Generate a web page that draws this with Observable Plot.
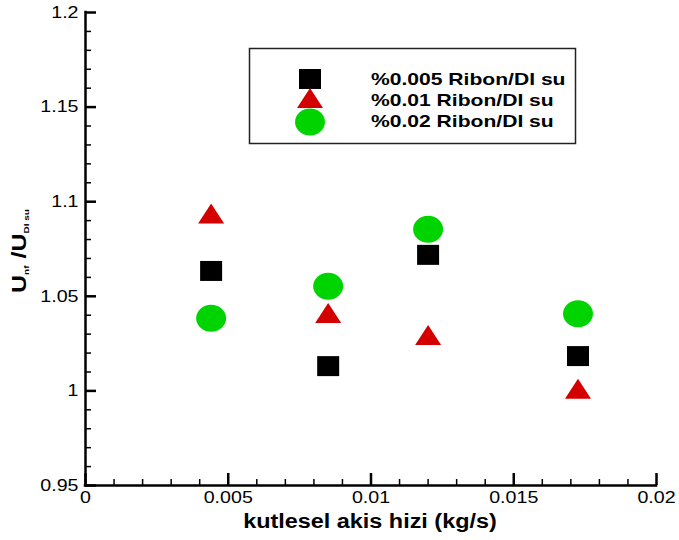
<!DOCTYPE html>
<html>
<head>
<meta charset="utf-8">
<script src="https://cdn.jsdelivr.net/npm/d3@7"></script>
<script src="https://cdn.jsdelivr.net/npm/@observablehq/plot@0.6"></script>
<style>
  html, body { margin: 0; padding: 0; background: #fff; }
  #chart svg { display: block; }
</style>
</head>
<body>
<div id="chart"></div>
<script>
// ---- data ----
const flowRates = [0.0044, 0.0085, 0.012, 0.01725];           // kutlesel akis hizi (kg/s)
const seriesNames = ["%0.005 Ribon/DI su", "%0.01 Ribon/DI su", "%0.02 Ribon/DI su"];
const ratio005 = [1.0634, 1.0131, 1.0719, 1.0184];
const ratio01  = [1.0938, 1.0412, 1.0295, 1.0012];
const ratio02  = [1.0384, 1.0553, 1.0854, 1.0408];
const seriesColors = ["#000000", "#d40000", "#00d400"];
const xTicks = [0, 0.005, 0.01, 0.015, 0.02];
const xTickLabels = ["0", "0.005", "0.01", "0.015", "0.02"];
const yTicks = [0.95, 1, 1.05, 1.1, 1.15, 1.2];
const yTickLabels = ["0.95", "1", "1.05", "1.1", "1.15", "1.2"];
const xMinorTicks = [0.001,0.002,0.003,0.004,0.006,0.007,0.008,0.009,0.011,0.012,0.013,0.014,0.016,0.017,0.018,0.019];
const yMinorTicks = [0.96,0.97,0.98,0.99,1.01,1.02,1.03,1.04,1.06,1.07,1.08,1.09,1.11,1.12,1.13,1.14,1.16,1.17,1.18,1.19];
const xTitle = "kutlesel akis hizi (kg/s)";

// ---- marker shapes ----
const squareSym = {draw(c) { const w = 11, h = 10; c.moveTo(-w, -h); c.lineTo(w, -h); c.lineTo(w, h); c.lineTo(-w, h); c.closePath(); }};
const triangleSym = {draw(c) { c.moveTo(0, -10); c.lineTo(13, 10); c.lineTo(-13, 10); c.closePath(); }};
const ellipseSym = {draw(c) {
  const rx = 15, ry = 13.5, k = 0.5523;
  c.moveTo(rx, 0);
  c.bezierCurveTo(rx, ry * k, rx * k, ry, 0, ry);
  c.bezierCurveTo(-rx * k, ry, -rx, ry * k, -rx, 0);
  c.bezierCurveTo(-rx, -ry * k, -rx * k, -ry, 0, -ry);
  c.bezierCurveTo(rx * k, -ry, rx, -ry * k, rx, 0);
  c.closePath();
}};
const symbols = [squareSym, triangleSym, ellipseSym];

const seriesValues = [ratio005, ratio01, ratio02];
const seriesData = seriesValues.map(vals => flowRates.map((x, i) => ({x, y: vals[i]})));

const font = "'Liberation Sans', Arial, Helvetica, sans-serif";

const chart = Plot.plot({
  width: 679,
  height: 540,
  marginLeft: 85,
  marginRight: 23,
  marginTop: 12,
  marginBottom: 55,
  x: {domain: [0, 0.02]},
  y: {domain: [0.95, 1.2]},
  style: {fontFamily: font, fontSize: "16px", color: "#000", background: "#fff", overflow: "visible"},
  marks: [
    // minor ticks (inward)
    Plot.axisX(xMinorTicks, {tickSize: -6, strokeWidth: 1.5, fill: "none", label: null}),
    Plot.axisY(yMinorTicks, {tickSize: -6, strokeWidth: 1.5, fill: "none", label: null}),
    // major ticks (inward)
    Plot.axisX(xTicks, {tickSize: -12, strokeWidth: 2.5, fill: "none", label: null}),
    Plot.axisY(yTicks, {tickSize: -11, strokeWidth: 2.5, fill: "none", label: null}),
    // tick labels
    Plot.axisX(xTicks, {tickSize: 0, tickPadding: 6, fontSize: 16.5, label: null,
      tickFormat: d => xTickLabels[xTicks.indexOf(d)]}),
    Plot.axisY(yTicks, {tickSize: 0, tickPadding: 7, fontSize: 16.5, label: null,
      tickFormat: d => yTickLabels[yTicks.indexOf(d)]}),
    // axis lines
    Plot.ruleX([0], {y1: 0.95, y2: 1.2, strokeWidth: 2.5, strokeLinecap: "square"}),
    Plot.ruleY([0.95], {x1: 0, x2: 0.02, strokeWidth: 2.5, strokeLinecap: "square"}),
    // data
    ...seriesData.map((data, s) => Plot.dot(data, {
      x: "x", y: "y", symbol: symbols[s], r: 10, fill: seriesColors[s], stroke: "none"
    }))
  ]
});

document.getElementById("chart").appendChild(chart);

// ---- overlays: axis titles and legend ----
const svg = d3.select(chart);

function stretch(nodes, f) {
  nodes.forEach(t => {
    const L = t.getComputedTextLength();
    t.setAttribute("textLength", (L * f).toFixed(1));
    t.setAttribute("lengthAdjust", "spacingAndGlyphs");
  });
}

// stretch tick labels (reference type is wide)
stretch(svg.selectAll("g[aria-label$='tick label'] text").nodes(), 1.19);

// x title
const xt = svg.append("text")
  .attr("x", 370).attr("y", 528)
  .attr("text-anchor", "middle")
  .attr("font-family", font).attr("font-weight", "bold").attr("font-size", 19.5)
  .attr("fill", "#000")
  .text(xTitle);
stretch([xt.node()], 1.2);

// y title  U_nf /U_DIsu
const yt = svg.append("text")
  .attr("transform", "translate(26,251) rotate(-90)")
  .attr("text-anchor", "middle")
  .attr("font-family", font).attr("font-weight", "bold").attr("font-size", 20)
  .attr("fill", "#000");
yt.append("tspan").text("U");
yt.append("tspan").attr("font-size", 8).attr("dy", 3).text("nf");
yt.append("tspan").attr("dy", -3).text(" /U");
yt.append("tspan").attr("font-size", 8).attr("dy", 3).text("DI su");
yt.attr("textLength", 84).attr("lengthAdjust", "spacingAndGlyphs");

// legend
const lg = svg.append("g").attr("aria-label", "legend");
lg.append("rect")
  .attr("x", 249.5).attr("y", 48.5).attr("width", 326).attr("height", 95)
  .attr("fill", "#fff").attr("stroke", "#222").attr("stroke-width", 1.5);
const legendSymY = [79, 98, 122];
const legendTextY = [79, 100, 121];
seriesNames.forEach((name, s) => {
  lg.append("path")
    .attr("transform", `translate(310,${legendSymY[s]})`)
    .attr("d", d3.symbol(symbols[s])())
    .attr("fill", seriesColors[s]);
  const t = lg.append("text")
    .attr("x", 371).attr("y", legendTextY[s])
    .attr("dy", "0.36em")
    .attr("text-anchor", "start")
    .attr("font-family", font).attr("font-weight", "bold").attr("font-size", 17)
    .attr("fill", "#000")
    .text(name);
  stretch([t.node()], 1.24);
});
</script>
</body>
</html>
